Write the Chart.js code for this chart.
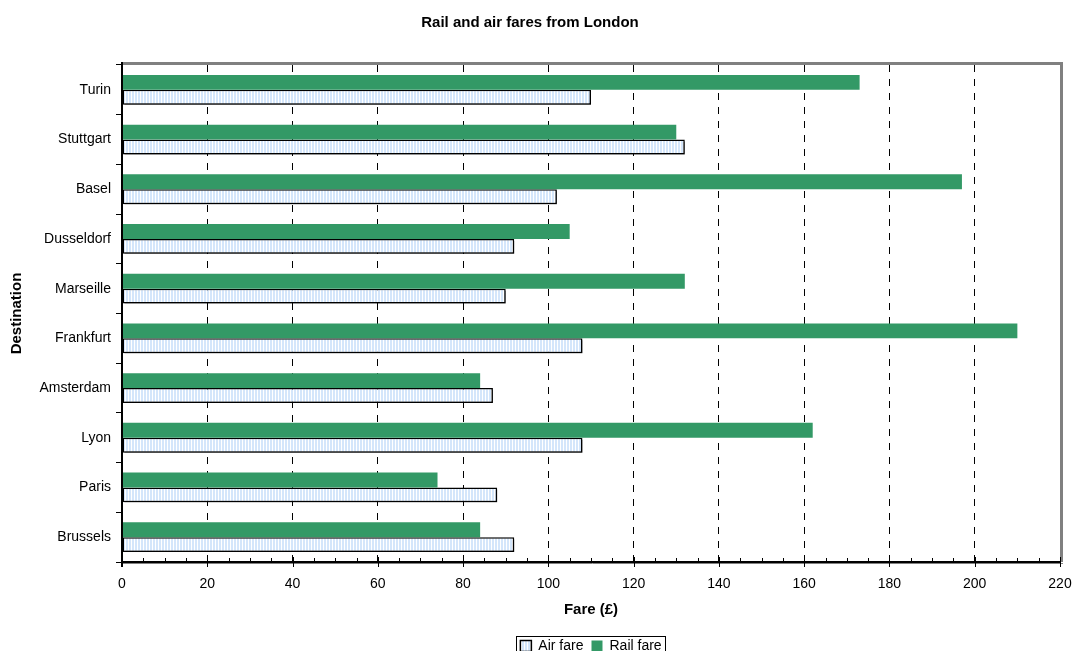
<!DOCTYPE html>
<html>
<head>
<meta charset="utf-8">
<script src="https://cdn.jsdelivr.net/npm/chart.js@4.4.1/dist/chart.umd.min.js"></script>
<style>
  html, body { margin: 0; padding: 0; background: #fff; overflow: hidden; }
  #wrap { position: absolute; left: 0; top: 0; width: 1075px; height: 667px; }
</style>
</head>
<body>
<div id="wrap"><canvas id="c" width="1075" height="667"></canvas></div>
<script>
// ---- Data ----
const categories = ['Turin', 'Stuttgart', 'Basel', 'Dusseldorf', 'Marseille', 'Frankfurt', 'Amsterdam', 'Lyon', 'Paris', 'Brussels'];
const railFare = [173, 130, 197, 105, 132, 210, 84, 162, 74, 84];
const airFare  = [110, 132, 102, 92, 90, 108, 87, 108, 88, 92];
const xTickMin = 0;
const xTickMax = 220;
const xTickStep = 20;
const xMinorStep = 5;

const FONT = "'Liberation Sans', Arial, sans-serif";
Chart.defaults.font.family = FONT;
Chart.defaults.color = '#000';

// light blue vertical stripe pattern for the air fare bars
function stripePattern() {
  const pc = document.createElement('canvas');
  pc.width = 3; pc.height = 4;
  const g = pc.getContext('2d');
  g.fillStyle = '#ffffff'; g.fillRect(0, 0, 3, 4);
  g.fillStyle = '#d4e6fb'; g.fillRect(0, 0, 2, 4);
  return g.createPattern(pc, 'repeat');
}
const ctx = document.getElementById('c').getContext('2d');
const airPattern = stripePattern();

const shadowPlugin = {
  id: 'airShadow',
  beforeDatasetDraw(chart, args) {
    if (args.index === 1) {
      const c = chart.ctx;
      c.save();
      c.shadowColor = 'rgba(0,0,0,0.45)';
      c.shadowOffsetX = 2;
      c.shadowOffsetY = 2;
      c.shadowBlur = 0;
    }
  },
  afterDatasetDraw(chart, args) {
    if (args.index === 1) chart.ctx.restore();
  }
};

const framePlugin = {
  id: 'frame',
  afterDatasetsDraw(chart) {
    const c = chart.ctx;
    const a = chart.chartArea;
    const xs = chart.scales.x;
    c.save();
    // gray frame top and right
    c.strokeStyle = '#808080';
    c.lineWidth = 3;
    c.beginPath();
    c.moveTo(a.left, a.top - 1.5);
    c.lineTo(a.right + 1.5, a.top - 1.5);
    c.lineTo(a.right + 1.5, a.bottom);
    c.stroke();
    // gray shadow under bottom axis
    c.lineWidth = 1;
    c.beginPath();
    c.moveTo(a.left, a.bottom + 1.5);
    c.lineTo(a.right + 3, a.bottom + 1.5);
    c.stroke();
    // black axes
    c.strokeStyle = '#000';
    c.lineWidth = 2;
    c.beginPath();
    c.moveTo(a.left, a.top - 3);
    c.lineTo(a.left, a.bottom + 5);
    c.moveTo(a.left, a.bottom);
    c.lineTo(a.right + 1, a.bottom);
    c.stroke();
    // x ticks: major and minor
    c.lineWidth = 1;
    c.beginPath();
    for (let v = xTickMin; v <= xTickMax; v += xMinorStep) {
      const px = Math.round(xs.getPixelForValue(v)) + 0.5;
      if (v % xTickStep === 0) {
        c.moveTo(px, a.bottom - 5);
        c.lineTo(px, a.bottom + 5);
      } else {
        c.moveTo(px, a.bottom - 4);
        c.lineTo(px, a.bottom + 1);
      }
    }
    c.stroke();
    // legend border
    const lg = chart.legend;
    if (lg && lg.legendHitBoxes && lg.legendHitBoxes.length) {
      let l = Infinity, r = -Infinity, t = Infinity, b = -Infinity;
      lg.legendHitBoxes.forEach(h => {
        l = Math.min(l, h.left); r = Math.max(r, h.left + h.width);
        t = Math.min(t, h.top); b = Math.max(b, h.top + h.height);
      });
      c.strokeStyle = '#000';
      c.lineWidth = 1;
      c.strokeRect(Math.round(l - 4) + 0.5, Math.round(t - 3) + 0.5, Math.round(r - l + 8), Math.round(b - t + 6));
    }
    c.restore();
  }
};

new Chart(ctx, {
  type: 'bar',
  data: {
    labels: categories,
    datasets: [
      {
        label: 'Rail fare',
        data: railFare,
        backgroundColor: '#339966',
        borderColor: '#339966',
        borderWidth: 0,
        borderSkipped: false,
        categoryPercentage: 0.6,
        barPercentage: 1.0
      },
      {
        label: 'Air fare',
        data: airFare,
        backgroundColor: airPattern,
        borderColor: '#000',
        borderWidth: 1.5,
        borderSkipped: false,
        categoryPercentage: 0.6,
        barPercentage: 1.0
      }
    ]
  },
  options: {
    indexAxis: 'y',
    responsive: false,
    animation: false,
    devicePixelRatio: 1,
    layout: { padding: { left: 0, right: 15, top: 0, bottom: 4 } },
    plugins: {
      title: {
        display: true,
        text: 'Rail and air fares from London',
        font: { size: 15, weight: 'bold', family: FONT },
        color: '#000',
        padding: { top: 14, bottom: 33 }
      },
      legend: {
        position: 'bottom',
        fullSize: false,
        reverse: true,
        labels: {
          boxWidth: 11,
          boxHeight: 11,
          padding: 8,
          font: { size: 14, family: FONT },
          color: '#000'
        }
      },
      tooltip: { enabled: false }
    },
    scales: {
      x: {
        type: 'linear',
        min: xTickMin,
        max: xTickMax,
        ticks: {
          stepSize: xTickStep,
          padding: 14,
          maxRotation: 0,
          autoSkip: false,
          font: { size: 14, family: FONT },
          color: '#000'
        },
        grid: {
          drawTicks: false,
          lineWidth: 1,
          color: (c) => (c.tick && c.tick.value > xTickMin && c.tick.value < xTickMax) ? '#000' : 'rgba(0,0,0,0)'
        },
        border: { display: false, dash: [7, 7] },
        title: {
          display: true,
          text: 'Fare (£)',
          font: { size: 15, weight: 'bold', family: FONT },
          color: '#000',
          padding: { top: 4, bottom: 12 }
        },
        afterFit: (s) => { s.height = 69; s.paddingLeft = 0; s.paddingRight = 0; }
      },
      y: {
        type: 'category',
        offset: true,
        ticks: {
          padding: 5,
          font: { size: 14, family: FONT },
          color: '#000'
        },
        grid: {
          offset: true,
          drawOnChartArea: false,
          drawTicks: true,
          tickLength: 6,
          color: '#000',
          lineWidth: 1
        },
        border: { display: false },
        title: {
          display: true,
          text: 'Destination',
          font: { size: 15, weight: 'bold', family: FONT },
          color: '#000',
          padding: { top: 8, bottom: 0 }
        },
        afterFit: (s) => { s.width = 122; s.paddingTop = 0; s.paddingBottom = 0; }
      }
    }
  },
  plugins: [shadowPlugin, framePlugin]
});
</script>
</body>
</html>
